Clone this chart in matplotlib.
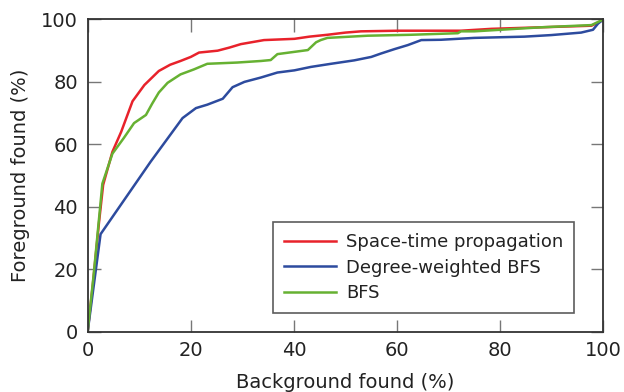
import matplotlib
matplotlib.use("Agg")
import matplotlib.pyplot as plt

plt.rcParams['font.family'] = ['DejaVu Sans']

# Space-time propagation
red_x = [0, 1, 2.2, 3.0, 4.8, 6.5, 8.7, 11, 13.8, 16, 18, 20, 21.6, 25.2, 27.5, 29.7,
         34.2, 40.1, 43, 46.5, 50, 53, 60.2, 68.5, 72.4, 78.3, 88, 97.7, 99, 100]
red_y = [0, 15, 35, 47, 57.6, 64, 73.8, 79, 83.5, 85.5, 86.7, 88, 89.4, 90, 91, 92.1,
         93.4, 93.8, 94.5, 95.1, 95.8, 96.2, 96.4, 96.4, 96.4, 97, 97.5, 98, 99, 100]

# Degree-weighted BFS
blue_x = [0, 2.5, 12.2, 18.4, 21, 23.2, 26.2, 28.1, 30.4, 33.6, 36.8, 40.1, 43.3, 47.2,
          51.7, 55, 56.9, 59.5, 62.1, 64.7, 68.5, 75, 84.7, 89.9, 95.7, 98, 99, 100]
blue_y = [0, 31.2, 54.4, 68.4, 71.6, 72.7, 74.6, 78.3, 80, 81.4, 83, 83.7, 84.8, 85.8,
          86.9, 88, 89.1, 90.5, 91.8, 93.4, 93.5, 94.1, 94.5, 95, 95.8, 96.7, 98.7, 100]

# BFS
green_x = [0, 1.2, 2.85, 4.8, 7, 9, 11.3, 12.5, 13.8, 15.5, 18, 20.6, 23.2, 29, 33.6,
           35.5, 36.8, 42.7, 44.3, 45.2, 46.5, 54.3, 62.7, 71.8, 72.4, 75, 88, 97.7, 100]
green_y = [0, 18.8, 47.4, 57, 62, 66.8, 69.4, 73, 76.6, 79.7, 82.4, 84, 85.8, 86.2, 86.7,
           87, 88.9, 90.2, 92.7, 93.4, 94.1, 94.8, 95.1, 95.6, 96.2, 96.2, 97.5, 98.2, 100]

ticks = [0, 20, 40, 60, 80, 100]

fig = plt.figure(figsize=(6.24, 3.92), dpi=100)
ax = fig.add_axes([0.1405, 0.1543, 0.8263, 0.796])

ax.plot(red_x, red_y, color='#e8222b', lw=1.8, label='Space-time propagation')
ax.plot(blue_x, blue_y, color='#2d4b9e', lw=1.8, label='Degree-weighted BFS')
ax.plot(green_x, green_y, color='#66b132', lw=1.8, label='BFS')

ax.set_xlim(0, 100)
ax.set_ylim(0, 100)
ax.set_xticks(ticks)
ax.set_yticks(ticks)
ax.tick_params(direction='in', length=9, width=1, color='#777777',
               top=True, right=True, labelsize=14, labelcolor='#222222', pad=7)
for s in ax.spines.values():
    s.set_color('#333333')
    s.set_linewidth(1.3)

ax.set_xlabel('Background found (%)', fontsize=14, color='#222222', labelpad=9)
ax.set_ylabel('Foreground found (%)', fontsize=14, color='#222222', labelpad=8)

leg = ax.legend(loc='lower right', bbox_to_anchor=(0.943, 0.059), fontsize=13,
                frameon=True, fancybox=False, edgecolor='#333333',
                handlelength=2.9, handletextpad=0.55, labelspacing=0.42,
                borderpad=0.6, borderaxespad=0)
leg.get_frame().set_linewidth(1.2)
for t in leg.get_texts():
    t.set_color('#222222')

fig.savefig('out.png', dpi=100)
